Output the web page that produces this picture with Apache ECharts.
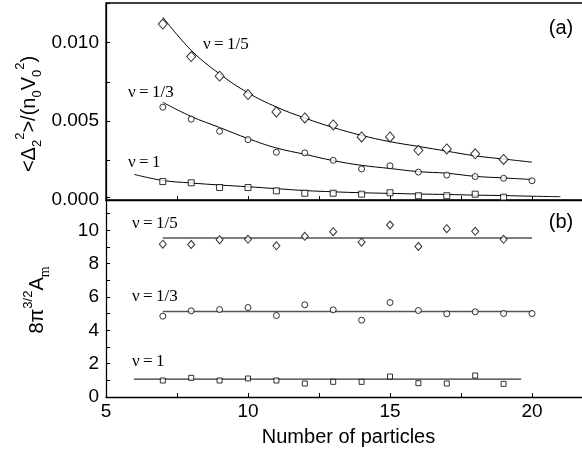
<!DOCTYPE html>
<html>
<head>
<meta charset="utf-8">
<script src="https://cdn.jsdelivr.net/npm/echarts@6/dist/echarts.min.js"></script>
<style>
html, body { margin: 0; padding: 0; background: #fff; }
#chart { width: 582px; height: 455px; }
</style>
</head>
<body>
<div id="chart"></div>
<script>
// particle numbers
var nA = [7, 8, 9, 10, 11, 12, 13, 14, 15, 16, 17, 18, 19];
var nB = [7, 8, 9, 10, 11, 12, 13, 14, 15, 16, 17, 18, 19, 20];
var nFit = [7, 8, 9, 10, 11, 12, 13, 14, 15, 16, 17, 18, 19, 20];
var nFit1 = [6, 7, 8, 9, 10, 11, 12, 13, 14, 15, 16, 17, 18, 19, 20, 21];

// panel (a): <Delta_2^2>/(n0 V0^2)
var a15 = [0.01116, 0.00910, 0.00786, 0.00669, 0.00559, 0.00521, 0.00476, 0.00400, 0.00400, 0.00315, 0.00324, 0.00293, 0.00257];
var a13 = [0.00589, 0.00513, 0.00436, 0.00383, 0.00303, 0.00299, 0.00252, 0.00197, 0.00217, 0.00177, 0.00158, 0.00149, 0.00138, 0.00122];
var a1 = [0.00117, 0.00109, 0.00079, 0.00079, 0.00058, 0.00043, 0.00043, 0.00037, 0.00046, 0.00027, 0.00027, 0.00037, 0.00018];
var fitA15 = [0.0116, 0.0095, 0.0080, 0.0068, 0.0059, 0.0052, 0.0046, 0.0041, 0.0037, 0.0034, 0.0031, 0.0028, 0.0026, 0.0024];
var fitA13 = [0.0062, 0.0053, 0.0046, 0.0039, 0.0033, 0.0029, 0.0025, 0.0022, 0.0020, 0.0018, 0.0017, 0.0015, 0.0014, 0.0013];
var fitA1 = [0.00162, 0.00124, 0.00108, 0.00095, 0.00084, 0.00072, 0.00060, 0.00052, 0.00046, 0.00042, 0.00038, 0.00035, 0.00031, 0.00028, 0.00024, 0.00021];

// panel (b): 8 pi^(3/2) A_m
var b15 = [9.17, 9.15, 9.44, 9.46, 9.07, 9.64, 9.92, 9.29, 10.32, 9.03, 10.10, 9.94, 9.46];
var b13 = [4.85, 5.17, 5.25, 5.37, 4.89, 5.53, 5.23, 4.61, 5.67, 5.19, 4.99, 5.11, 5.01, 5.01];
var b1 = [0.99, 1.15, 0.99, 1.11, 0.99, 0.81, 0.91, 0.91, 1.23, 0.83, 0.81, 1.29, 0.79];
var levelB15 = 9.54, rangeB15 = [7, 20];
var levelB13 = 5.13, rangeB13 = [7, 20];
var levelB1 = 1.07, rangeB1 = [5.98, 19.62];

var FONT = 'Liberation Sans, Arial, sans-serif';
var SERIF = 'Liberation Serif, Times New Roman, serif';

function zip(xs, ys) {
	return xs.map(function(x, i) { return [x, ys[i]]; });
}
function flat(range, v) {
	return [[range[0], v], [range[1], v]];
}

function xAxisCfg(grid, showLabels) {
	return {
		type: 'value',
		gridIndex: grid,
		min: 5, max: 22.5, interval: 2.5,
		axisLine: { show: true, onZero: false, lineStyle: { color: '#000', width: 1.3 } },
		axisTick: { show: true, inside: true, length: 4, lineStyle: { color: '#000', width: 1 } },
		splitLine: { show: false },
		axisLabel: {
			show: showLabels, color: '#000', fontSize: 19, fontFamily: FONT, margin: 5,
			formatter: function(v) { return v % 5 === 0 && v <= 20 ? String(v) : ''; }
		}
	};
}

function scatter(x, y, data, symbol, size) {
	return {
		type: 'scatter', xAxisIndex: x, yAxisIndex: y, data: data,
		symbol: symbol, symbolSize: size, z: 3,
		itemStyle: { color: '#fff', borderColor: '#000', borderWidth: 1 }
	};
}
function line(x, y, data, color, width, smooth) {
	return {
		type: 'line', xAxisIndex: x, yAxisIndex: y, data: data,
		showSymbol: false, symbol: 'none', smooth: smooth, z: 2,
		lineStyle: { color: color, width: width }
	};
}

function nuLabel(x, y, txt) {
	return { type: 'text', x: x, y: y, style: { text: txt, font: '17px ' + SERIF, fill: '#000', align: 'left', verticalAlign: 'middle' } };
}

var option = {
	animation: false,
	backgroundColor: '#fff',
	grid: [
		{ left: 106, right: -21, top: 3, height: 197, show: true, borderColor: '#000', borderWidth: 1.3, backgroundColor: 'transparent', outerBoundsMode: 'none' },
		{ left: 106, right: -21, top: 197, height: 200, outerBoundsMode: 'none' }
	],
	xAxis: [
		xAxisCfg(0, false),
		Object.assign(xAxisCfg(1, true), {
			name: 'Number of particles', nameLocation: 'middle', nameGap: 30,
			nameTextStyle: { color: '#000', fontSize: 20, fontFamily: FONT, padding: [0, 12, 0, 0] }
		})
	],
	yAxis: [
		{
			type: 'value', gridIndex: 0, min: 0, max: 0.0125, interval: 0.0025,
			axisLine: { show: true, lineStyle: { color: '#000', width: 1.3 } },
			axisTick: { show: true, inside: true, length: 4, lineStyle: { color: '#000', width: 1 } },
			splitLine: { show: false },
			axisLabel: {
				color: '#000', fontSize: 19, fontFamily: FONT, margin: 7,
				formatter: function(v) {
					var k = v / 0.005;
					return Math.abs(k - Math.round(k)) < 1e-6 && v < 0.012 ? v.toFixed(3) : '';
				}
			}
		},
		{
			type: 'value', gridIndex: 1, min: 0, max: 12, interval: 1,
			axisLine: { show: true, lineStyle: { color: '#000', width: 1.3 } },
			axisTick: { show: true, inside: true, length: 4, lineStyle: { color: '#000', width: 1 } },
			splitLine: { show: false },
			axisLabel: {
				color: '#000', fontSize: 19, fontFamily: FONT, margin: 7,
				formatter: function(v) { return v % 2 === 0 && v <= 10 ? String(v) : ''; }
			}
		}
	],
	graphic: [
		{ type: 'text', x: 561, y: 28, style: { text: '(a)', font: '20px ' + FONT, fill: '#000', align: 'center', verticalAlign: 'middle' } },
		{ type: 'text', x: 561, y: 222, style: { text: '(b)', font: '20px ' + FONT, fill: '#000', align: 'center', verticalAlign: 'middle' } },
		nuLabel(203, 45, 'ν\u2009=\u20091/5'),
		nuLabel(128, 93, 'ν\u2009=\u20091/3'),
		nuLabel(128, 163, 'ν\u2009=\u20091'),
		nuLabel(132, 224, 'ν\u2009=\u20091/5'),
		nuLabel(132, 297, 'ν\u2009=\u20091/3'),
		nuLabel(132, 362, 'ν\u2009=\u20091'),
		{
			type: 'text', x: 29, y: 114, rotation: Math.PI / 2,
			style: {
				text: '{t|<Δ}{sub|2}{sup|2}{t|>/(n}{sub|0}{t|V}{sub|0}{sup|2}{t|)}',
				align: 'center', verticalAlign: 'middle', fill: '#000',
				rich: {
					t: { fontSize: 20, fontFamily: FONT, lineHeight: 30, fill: '#000' },
					sub: { fontSize: 13, fontFamily: FONT, verticalAlign: 'bottom', lineHeight: 14, fill: '#000' },
					sup: { fontSize: 13, fontFamily: FONT, verticalAlign: 'top', lineHeight: 14, fill: '#000' }
				}
			}
		},
		{
			type: 'text', x: 37, y: 300, rotation: Math.PI / 2,
			style: {
				text: '{t|8π}{sup|3/2}{t|A}{sub|m}',
				align: 'center', verticalAlign: 'middle', fill: '#000',
				rich: {
					t: { fontSize: 20, fontFamily: FONT, lineHeight: 30, fill: '#000' },
					sub: { fontSize: 14, fontFamily: SERIF, verticalAlign: 'bottom', lineHeight: 14, fill: '#000' },
					sup: { fontSize: 13, fontFamily: FONT, verticalAlign: 'top', lineHeight: 14, fill: '#000' }
				}
			}
		}
	],
	series: [
		line(0, 0, zip(nFit, fitA15), '#000', 1, 0.4),
		line(0, 0, zip(nFit, fitA13), '#000', 1, 0.4),
		line(0, 0, zip(nFit1, fitA1), '#000', 1, 0.4),
		scatter(0, 0, zip(nA, a15), 'diamond', [9, 10]),
		scatter(0, 0, zip(nB, a13), 'circle', 6),
		scatter(0, 0, zip(nA, a1), 'rect', 6),
		line(1, 1, flat(rangeB15, levelB15), '#555', 1.5, false),
		line(1, 1, flat(rangeB13, levelB13), '#555', 1.5, false),
		line(1, 1, flat(rangeB1, levelB1), '#333', 1.3, false),
		scatter(1, 1, zip(nA, b15), 'diamond', [7, 8]),
		scatter(1, 1, zip(nB, b13), 'circle', 6),
		scatter(1, 1, zip(nA, b1), 'rect', 5)
	]
};

var chart = echarts.init(document.getElementById('chart'));
chart.setOption(option);
</script>
</body>
</html>
